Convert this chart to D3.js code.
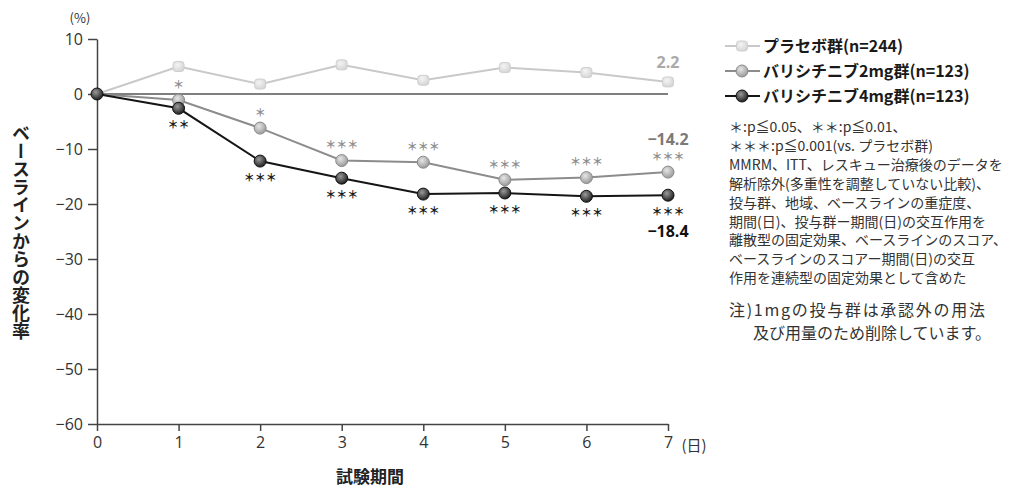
<!DOCTYPE html>
<html><head><meta charset="utf-8">
<script src="https://cdn.jsdelivr.net/npm/d3@7"></script>
<style>
html,body{margin:0;padding:0;background:#fff;}
svg{display:block;}
</style></head>
<body>
<script>
const days = [0,1,2,3,4,5,6,7];
const placebo = [0, 5.0, 1.8, 5.3, 2.5, 4.8, 3.9, 2.2];
const mg2 = [0, -1.1, -6.2, -12.1, -12.4, -15.6, -15.2, -14.2];
const mg4 = [0, -2.6, -12.2, -15.3, -18.2, -18.0, -18.6, -18.4];
const sig2 = ["", "＊", "＊", "＊＊＊", "＊＊＊", "＊＊＊", "＊＊＊", "＊＊＊"];
const sig4 = ["", "＊＊", "＊＊＊", "＊＊＊", "＊＊＊", "＊＊＊", "＊＊＊", "＊＊＊"];
const yTicks = [10,0,-10,-20,-30,-40,-50,-60];
const seriesNames = ["プラセボ群(n=244)", "バリシチニブ2mg群(n=123)", "バリシチニブ4mg群(n=123)"];
const endLabels = ["2.2", "−14.2", "−18.4"];
const notes = [
 "＊:p≦0.05、＊＊:p≦0.01、",
 "＊＊＊:p≦0.001(vs. プラセボ群)",
 "MMRM、ITT、レスキュー治療後のデータを",
 "解析除外(多重性を調整していない比較)、",
 "投与群、地域、ベースラインの重症度、",
 "期間(日)、投与群ー期間(日)の交互作用を",
 "離散型の固定効果、ベースラインのスコア、",
 "ベースラインのスコアー期間(日)の交互",
 "作用を連続型の固定効果として含めた"
];
const footnotes = ["注)1mgの投与群は承認外の用法", "及び用量のため削除しています。"];

const W = 1019, H = 489;
const FONT = "'Noto Sans CJK JP','Noto Sans',sans-serif";
const NUMFONT = "'Liberation Sans Narrow','Open Sans','Noto Sans',sans-serif";
const svg = d3.select("body").append("svg").attr("width", W).attr("height", H);

const defs = svg.append("defs");
function grad(id, c1, c2){
  const g = defs.append("radialGradient").attr("id", id).attr("cx","40%").attr("cy","35%").attr("r","65%");
  g.append("stop").attr("offset","0%").attr("stop-color", c1);
  g.append("stop").attr("offset","100%").attr("stop-color", c2);
}
grad("gP", "#f4f4f4", "#d6d6d6");
grad("g2", "#e6e6e6", "#9a9a9a");
grad("g4", "#9a9a9a", "#202020");

const x = d3.scaleLinear().domain([0,7]).range([97,668]);
const y = d3.scaleLinear().domain([-60,10]).range([424,39]);

// Axes
const fmt = d => (d < 0 ? "−" + Math.abs(d) : String(d));
const ya = svg.append("g").attr("transform", `translate(${x(0)},0)`)
  .call(d3.axisLeft(y).tickValues(yTicks).tickSize(9).tickSizeOuter(0).tickPadding(5).tickFormat(fmt));
ya.selectAll("path,line").attr("stroke", "#444").attr("stroke-width", 1.5);
ya.selectAll("text").attr("font-family", NUMFONT).attr("font-size", 16).attr("fill", "#333");

const xa = svg.append("g").attr("transform", `translate(0,${y(-60)})`)
  .call(d3.axisBottom(x).tickValues(days).tickSize(7).tickSizeOuter(0).tickPadding(6).tickFormat(d3.format("d")));
xa.selectAll("path,line").attr("stroke", "#444").attr("stroke-width", 1.5);
xa.selectAll("text").attr("font-family", NUMFONT).attr("font-size", 16).attr("fill", "#333");

svg.append("text").attr("x", x(7) + 26).attr("y", 451).attr("font-family", FONT).attr("font-size", 15)
  .attr("fill", "#333").attr("text-anchor", "middle").text("(日)");
svg.append("text").attr("x", 80).attr("y", 23).attr("font-family", FONT).attr("font-size", 13)
  .attr("fill", "#333").attr("text-anchor", "middle").text("(%)");

// Axis titles
svg.append("text").attr("x", 370).attr("y", 483).attr("font-family", FONT).attr("font-size", 17)
  .attr("font-weight", "bold").attr("fill", "#222").attr("text-anchor", "middle").text("試験期間");
svg.append("text").attr("x", 21).attr("y", 232)
  .attr("font-family", FONT).attr("font-size", 18).attr("font-weight", "bold").attr("fill", "#222")
  .attr("text-anchor", "middle")
  .style("writing-mode", "vertical-rl").style("text-orientation", "upright")
  .text("ベースラインからの変化率");

// zero line
svg.append("line").attr("x1", x(0)).attr("x2", x(7)).attr("y1", y(0)).attr("y2", y(0))
  .attr("stroke", "#555").attr("stroke-width", 1.5);

const line = d3.line().x((d,i) => x(days[i])).y(d => y(d));
const series = [
  {vals: placebo, color: "#c9c9c9", fill: "url(#gP)", stroke: "#cfcfcf", shape: "sq"},
  {vals: mg2, color: "#8c8c8c", fill: "url(#g2)", stroke: "#8a8a8a", shape: "c"},
  {vals: mg4, color: "#151515", fill: "url(#g4)", stroke: "#111", shape: "c"}
];
series.forEach(s => {
  svg.append("path").datum(s.vals).attr("d", line).attr("fill", "none")
    .attr("stroke", s.color).attr("stroke-width", 2);
});
function marker(g, s, cx, cy){
  if (s.shape === "sq") {
    g.append("rect").attr("x", cx-5.5).attr("y", cy-5).attr("width", 11).attr("height", 10).attr("rx", 3)
      .attr("fill", s.fill).attr("stroke", s.stroke).attr("stroke-width", 1);
  } else {
    g.append("circle").attr("cx", cx).attr("cy", cy).attr("r", 6)
      .attr("fill", s.fill).attr("stroke", s.stroke).attr("stroke-width", 1);
  }
}
series.forEach(s => {
  const g = svg.append("g");
  s.vals.forEach((v,i) => { if (i > 0) marker(g, s, x(days[i]), y(v)); });
});
marker(svg.append("g"), series[2], x(days[0]), y(mg4[0]));

// significance
const starG = svg.append("g").attr("font-family", FONT).attr("font-size", 11).attr("font-weight", "bold").attr("text-anchor", "middle");
mg2.forEach((v,i) => {
  if (sig2[i]) starG.append("text").attr("x", x(days[i])).attr("y", y(v) - 15).attr("dy", "0.35em")
    .attr("fill", "#8f8f8f").text(sig2[i]);
});
mg4.forEach((v,i) => {
  if (sig4[i]) starG.append("text").attr("x", x(days[i])).attr("y", y(v) + 17).attr("dy", "0.35em")
    .attr("fill", "#1a1a1a").text(sig4[i]);
});

// end labels
const eg = svg.append("g").attr("font-family", "'Open Sans','Noto Sans',sans-serif").attr("font-size", 16)
  .attr("font-weight", "bold").attr("text-anchor", "middle");
eg.append("text").attr("x", x(7)).attr("y", y(placebo[7]) - 20).attr("dy", "0.35em").attr("fill", "#aaaaaa").text(endLabels[0]);
eg.append("text").attr("x", x(7)).attr("y", y(mg2[7]) - 33).attr("dy", "0.35em").attr("fill", "#7a7a7a").text(endLabels[1]);
eg.append("text").attr("x", x(7)).attr("y", y(mg4[7]) + 36).attr("dy", "0.35em").attr("fill", "#111").text(endLabels[2]);

// legend
const lg = svg.append("g");
seriesNames.forEach((nm, i) => {
  const ly = 46 + i * 25;
  const s = series[i];
  lg.append("line").attr("x1", 725).attr("x2", 760).attr("y1", ly).attr("y2", ly)
    .attr("stroke", s.color).attr("stroke-width", 2);
  marker(lg, s, 742, ly);
  lg.append("text").attr("x", 763).attr("y", ly).attr("dy", "0.36em")
    .attr("font-family", FONT).attr("font-size", 16).attr("font-weight", "bold").attr("fill", "#1a1a1a").text(nm);
});

// notes (one text block)
const nt = svg.append("text").attr("font-family", FONT).attr("font-size", 14).attr("fill", "#333");
notes.forEach((t, i) => {
  nt.append("tspan").attr("x", 729).attr("y", 127 + i * 18.9).attr("dy", "0.36em").text(t);
});
const ft = svg.append("text").attr("font-family", FONT).attr("font-size", 16).attr("fill", "#333");
ft.append("tspan").attr("x", 729).attr("y", 310).attr("dy", "0.36em")
  .attr("textLength", 256).attr("lengthAdjust", "spacing").text(footnotes[0]);
ft.append("tspan").attr("x", 753).attr("y", 333.5).attr("dy", "0.36em").text(footnotes[1]);
</script>
</body></html>
